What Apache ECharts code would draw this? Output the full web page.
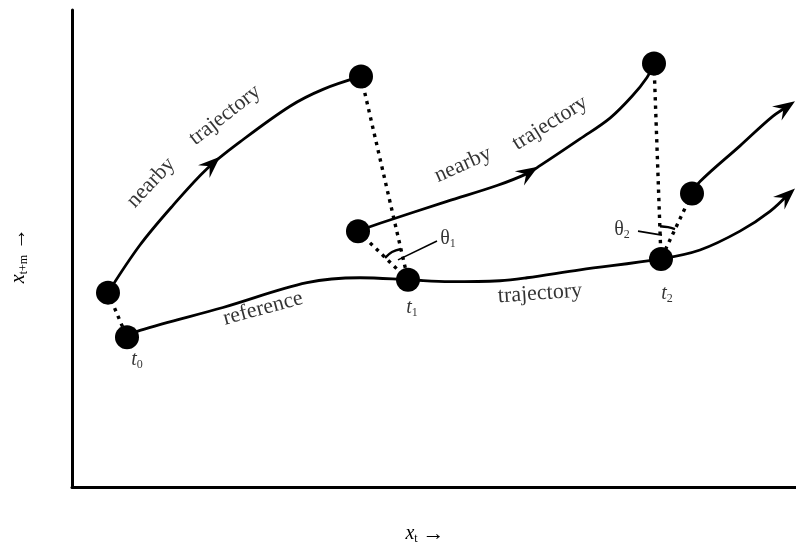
<!DOCTYPE html>
<html>
<head>
<meta charset="utf-8">
<script src="https://cdn.jsdelivr.net/npm/echarts@6/dist/echarts.min.js"></script>
<style>html,body{margin:0;padding:0;background:#fff}#c{width:796px;height:550px}</style>
</head>
<body>
<div id="c"></div>
<script>
// ---- data (diagram units: x right, y up) ----
const nearby1 = [[36,196],[68,244],[101,284],[135,321],[168,348],[218,384],[251,401],[289,414]];
const reference = [[55,151],[68,158],[151,181],[235,206],[288,211],[336,209],[378,207],[428,208],[455,211],[508,219],[589,230],[628,239],[668,258],[698,278],[718,297]];
const nearby2 = [[286,258],[308,266],[375,288],[425,304],[455,316],[468,324],[508,351],[538,372],[560,394],[575,413],[582,427]];
const nearby3 = [[620,296],[628,308],[668,344],[701,374],[718,385]];
const points = [[36,196],[55,151],[289,414],[286,258],[336,209],[582,427],[589,230],[620,296]];
const dotted1 = [[36,196],[55,151]];
const dotted2 = [[289,414],[336,209]];
const dotted3 = [[286,258],[336,209]];
const dotted4 = [[582,427],[589,230]];
const dotted5 = [[620,296],[589,230]];
const arc1 = [[313,231],[320,237],[329,240]];
const arc2 = [[588,263],[596,262],[603,260]];
const pointer1 = [[326,229],[365,248]];
const pointer2 = [[566,258],[590,254]];
// arrowheads: [tipX, tipY, fromX, fromY]
const arrows = [[148,333,135,321],[466,323,455,316],[723,301,698,278],[723,389,701,374]];
// text annotations
const labelTexts = ['nearby','trajectory','nearby','trajectory','reference','trajectory','{i|t}{s|0}','{i|t}{s|1}','{i|t}{s|2}','{a|θ}{s|1}','{a|θ}{s|2}'];
const labelAnchors = [[79,307],[153,375],[391,325],[478,367],[191,180],[468,195],[65,128],[340,181],[595,195],[376,250],[550,259]];
const labelAngles = [47,38,24,32,15,4,0,0,0,0,0];
const xAxisTitle = '{i|x}{s|t} {r|→}';
const yAxisTitle = '{i|x}{s|t+m} {r|→}';

const INK = '#000';
const FONT = 'Liberation Serif';
const rich = {
  i:{fontFamily:FONT,fontStyle:'italic',fontSize:20,color:INK,lineHeight:22},
  a:{fontFamily:FONT,fontSize:20,color:INK,lineHeight:22},
  s:{fontFamily:FONT,fontSize:12,color:INK,lineHeight:12,verticalAlign:'bottom'},
  r:{fontFamily:FONT,fontSize:22,color:INK,lineHeight:22}
};

function curve(d){return {type:'line',data:d,smooth:0.35,symbol:'none',lineStyle:{color:INK,width:2.8},z:3,silent:true};}
function dotted(d){return {type:'line',data:d,symbol:'none',lineStyle:{color:INK,width:3.4,type:[3.4,5],cap:'butt'},z:2,silent:true};}
function thin(d,w){return {type:'line',data:d,smooth:0.4,symbol:'none',lineStyle:{color:INK,width:w},z:3,silent:true};}

const chart = echarts.init(document.getElementById('c'),null,{renderer:'canvas'});
chart.setOption({
  animation:false,
  backgroundColor:'#fff',
  grid:{left:72,top:10,right:0,bottom:59},
  xAxis:{type:'value',min:0,max:724,axisLine:{lineStyle:{color:INK,width:3}},axisTick:{show:false},axisLabel:{show:false},splitLine:{show:false},
    name:xAxisTitle,nameLocation:'middle',nameGap:36,nameTextStyle:{fontFamily:FONT,fontSize:20,color:INK,rich:rich,padding:[0,18,0,0]}},
  yAxis:{type:'value',min:0,max:481,axisLine:{lineStyle:{color:INK,width:3}},axisTick:{show:false},axisLabel:{show:false},splitLine:{show:false},
    name:yAxisTitle,nameLocation:'middle',nameRotate:90,nameGap:42,nameTextStyle:{fontFamily:FONT,fontSize:20,color:INK,rich:rich,padding:[0,14,0,0]}},
  series:[
    curve(nearby1),curve(reference),curve(nearby2),curve(nearby3),
    dotted(dotted1),dotted(dotted2),dotted(dotted3),dotted(dotted4),dotted(dotted5),
    thin(arc1,2.4),thin(arc2,2.4),thin(pointer1,1.6),thin(pointer2,1.6),
    {type:'scatter',data:points,symbol:'circle',symbolSize:24,itemStyle:{color:INK,opacity:1},z:5,silent:true},
    {type:'custom',data:arrows,z:4,silent:true,
      renderItem:function(params,api){
        const t=api.coord([api.value(0),api.value(1)]);
        const f=api.coord([api.value(2),api.value(3)]);
        const a=Math.atan2(t[1]-f[1],t[0]-f[0]);
        const dx=Math.cos(a),dy=Math.sin(a),px=-dy,py=dx;
        const L=22,W=8.5,N=14;
        return {type:'polygon',shape:{points:[
          [t[0],t[1]],
          [t[0]-L*dx+W*px,t[1]-L*dy+W*py],
          [t[0]-N*dx,t[1]-N*dy],
          [t[0]-L*dx-W*px,t[1]-L*dy-W*py]
        ]},style:{fill:INK}};
      }},
    {type:'scatter',symbolSize:0,z:6,silent:true,
      data:labelAnchors.map((p,k)=>({value:p,label:{show:true,position:'inside',formatter:labelTexts[k],rotate:labelAngles[k],
        fontFamily:FONT,fontSize:22,color:INK,rich:rich}}))}
  ]
});
</script>
</body>
</html>
